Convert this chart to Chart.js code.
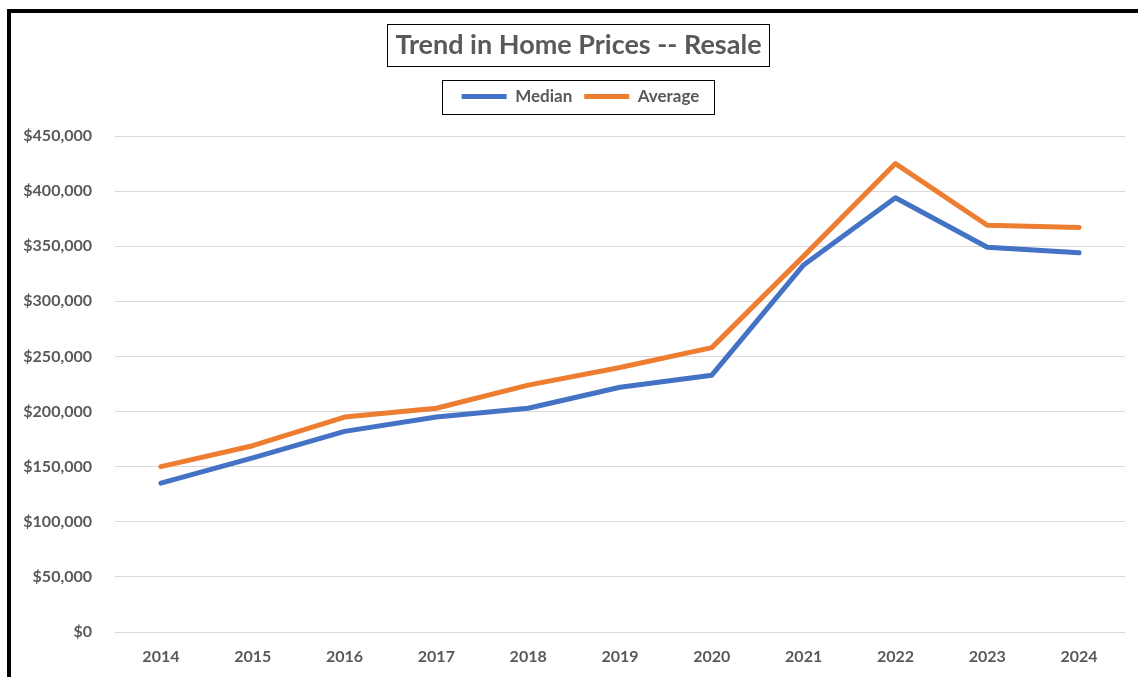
<!DOCTYPE html>
<html>
<head>
<meta charset="utf-8">
<title>Trend in Home Prices -- Resale</title>
<script src="https://cdn.jsdelivr.net/npm/chart.js@4/dist/chart.umd.min.js"></script>
<style>
    html, body { margin: 0; padding: 0; background: #fff; overflow: hidden; }
    #frame {
        position: absolute;
        left: 7px; top: 9px;
        width: 1150px; height: 700px;
        border: 4px solid #000;
    }
    #wrap { position: absolute; left: 0; top: 0; width: 1138px; height: 677px; }
</style>
</head>
<body>
<div id="frame"></div>
<div id="wrap"><canvas id="prices"></canvas></div>
<script>
/* Resale home prices, yearly */
const years   = ['2014', '2015', '2016', '2017', '2018', '2019', '2020', '2021', '2022', '2023', '2024'];
const median  = [135000, 158000, 182000, 195000, 203000, 222000, 233000, 333000, 394000, 349000, 344000];
const average = [150000, 169000, 195000, 203000, 224000, 240000, 258000, 341000, 425000, 369000, 367000];
const yTicks  = [0, 50000, 100000, 150000, 200000, 250000, 300000, 350000, 400000, 450000];

(function () {
    const TEXT = '#595959';
    const FONT = "Lato, 'Open Sans', sans-serif";
    const LEGEND_HEIGHT = 60;   // leaves room between legend and plot
    const TITLE_SHIFT = 12;     // header sits a little right of the canvas centre
    const LEGEND_SHIFT = 14;

    function money(v) {
        return '$' + Number(v).toLocaleString('en-US');
    }

    /* Header placement plus thin boxes round the title and the legend */
    const framedHeader = {
        id: 'framedHeader',
        afterInit(chart) {
            const lg = chart.legend;
            if (lg) {
                const fit = lg.fit;
                lg.fit = function () {
                    fit.call(this);
                    this.height = LEGEND_HEIGHT;
                };
            }
        },
        afterLayout(chart) {
            if (chart.titleBlock) {
                chart.titleBlock.left += TITLE_SHIFT;
                chart.titleBlock.right += TITLE_SHIFT;
            }
            if (chart.legend) {
                chart.legend.left += LEGEND_SHIFT;
                chart.legend.right += LEGEND_SHIFT;
            }
        },
        afterDraw(chart) {
            const ctx = chart.ctx;
            ctx.save();
            ctx.strokeStyle = '#000';
            ctx.lineWidth = 1;

            const t = chart.titleBlock;
            if (t) {
                const opts = chart.options.plugins.title;
                const f = Chart.helpers.toFont(opts.font);
                ctx.font = f.string;
                const w = ctx.measureText(opts.text).width;
                const cx = (t.left + t.right) / 2;
                const cy = t.top + opts.padding.top + f.lineHeight / 2;
                ctx.strokeRect(Math.round(cx - w / 2 - 8) + 0.5, Math.round(cy - 21) + 0.5,
                    Math.round(w + 16), 42);
            }

            const lg = chart.legend;
            if (lg && lg.legendHitBoxes.length) {
                const boxes = lg.legendHitBoxes;
                const l = Math.min(...boxes.map(b => b.left));
                const r = Math.max(...boxes.map(b => b.left + b.width));
                const cy = boxes[0].top + boxes[0].height / 2;
                ctx.strokeRect(Math.round(l - 20) + 0.5, Math.round(cy - 17) + 0.5,
                    Math.round(r - l + 34), 34);
            }
            ctx.restore();
        }
    };

    function buildChart() {
        const canvas = document.getElementById('prices');

        const data = {
            labels: years,
            datasets: [
                {
                    label: 'Median',
                    data: median,
                    borderColor: '#4472C4',
                    backgroundColor: '#4472C4',
                    borderWidth: 5,
                    pointRadius: 0,
                    borderCapStyle: 'round',
                    borderJoinStyle: 'round',
                    tension: 0,
                },
                {
                    label: 'Average',
                    data: average,
                    borderColor: '#ED7D31',
                    backgroundColor: '#ED7D31',
                    borderWidth: 5,
                    pointRadius: 0,
                    borderCapStyle: 'round',
                    borderJoinStyle: 'round',
                    tension: 0,
                },
            ],
        };

        const config = {
            type: 'line',
            data,
            plugins: [framedHeader],
            options: {
                responsive: true,
                maintainAspectRatio: false,
                animation: false,
                layout: { padding: { left: 8, right: 13, top: 0, bottom: 0 } },
                scales: {
                    x: {
                        offset: true,
                        grid: { display: false, drawTicks: false },
                        border: { display: false },
                        ticks: {
                            color: TEXT,
                            padding: 15,
                            font: { family: FONT, size: 16, weight: 'bold' },
                            maxRotation: 0,
                        },
                        afterFit(scale) { scale.height = 45; },
                    },
                    y: {
                        min: 0,
                        max: 450000,
                        afterBuildTicks(scale) {
                            scale.ticks = yTicks.map(v => ({ value: v }));
                        },
                        grid: { color: '#d9d9d9', lineWidth: 1, drawTicks: false },
                        border: { display: false },
                        ticks: {
                            color: TEXT,
                            padding: 23,
                            font: { family: FONT, size: 16, weight: 'bold' },
                            callback: v => money(v),
                        },
                        afterFit(scale) { scale.width = 107; },
                    },
                },
                plugins: {
                    title: {
                        display: true,
                        text: 'Trend in Home Prices -- Resale',
                        color: TEXT,
                        font: { family: FONT, size: 27, weight: 'bold' },
                        padding: { top: 29, bottom: 14.6 },
                    },
                    legend: {
                        display: true,
                        position: 'top',
                        labels: {
                            color: TEXT,
                            font: { family: FONT, size: 17, weight: 'bold' },
                            boxWidth: 45,
                            boxHeight: 5,
                            padding: 12,
                            generateLabels(chart) {
                                const items = Chart.defaults.plugins.legend.labels.generateLabels(chart);
                                items.forEach(it => { it.lineWidth = 0; });
                                return items;
                            },
                        },
                    },
                    tooltip: { enabled: false },
                },
            },
        };

        new Chart(canvas, config);
    }

    if (document.readyState === 'loading') {
        document.addEventListener('DOMContentLoaded', buildChart);
    } else {
        buildChart();
    }
})();
</script>
</body>
</html>
